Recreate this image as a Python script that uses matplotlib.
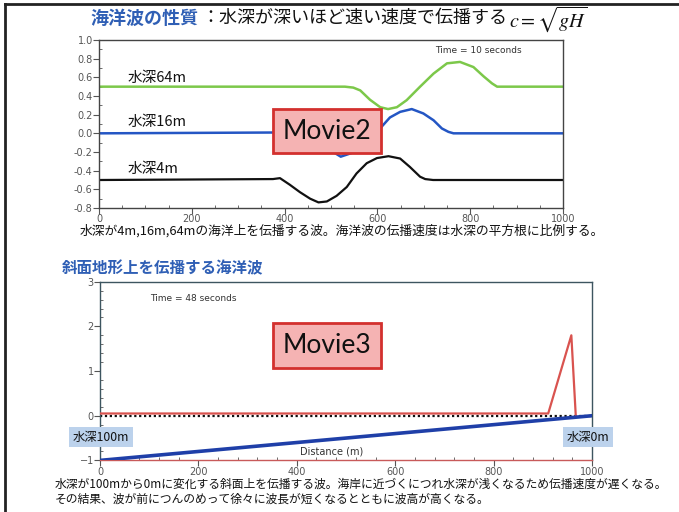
import matplotlib
matplotlib.use("Agg")
import matplotlib.pyplot as plt
from matplotlib.patches import FancyBboxPatch
from matplotlib.lines import Line2D
from matplotlib.ticker import MultipleLocator

plt.rcParams['font.family'] = ['Noto Sans CJK JP', 'DejaVu Sans']
plt.rcParams['mathtext.fontset'] = 'stix'

# ---- top panel: waves over three depths (t = 10 s) ----
x_64m = [0, 530, 548, 563, 584, 606, 623, 642, 663, 692, 721, 750, 778, 807, 829, 847, 858, 1000]
y_64m = [0.50, 0.50, 0.49, 0.46, 0.36, 0.28, 0.26, 0.28, 0.355, 0.50, 0.64, 0.75, 0.765, 0.71, 0.61, 0.535, 0.50, 0.50]

x_16m = [0, 430, 445, 470, 495, 521, 545, 570, 598, 609, 627, 649, 674, 699, 721, 739, 753, 764, 1000]
y_16m = [0.0, 0.01, 0.02, -0.05, -0.17, -0.25, -0.21, -0.09, 0.0, 0.07, 0.17, 0.23, 0.26, 0.213, 0.14, 0.052, 0.016, 0.0, 0.0]

x_4m = [0, 375, 390, 411, 433, 455, 473, 491, 512, 534, 555, 577, 599, 624, 649, 670, 692, 703, 720, 1000]
y_4m = [-0.50, -0.49, -0.48, -0.55, -0.63, -0.70, -0.74, -0.73, -0.67, -0.575, -0.43, -0.32, -0.265, -0.245, -0.27, -0.36, -0.465, -0.49, -0.50, -0.50]

depth_labels = ['水深64m', '水深16m', '水深4m']
top_xticks = [0, 200, 400, 600, 800, 1000]
top_yticks = [1.0, 0.8, 0.6, 0.4, 0.2, 0.0, -0.2, -0.4, -0.6, -0.8]

# ---- bottom panel: wave over a slope (t = 48 s) ----
x_wave = [0, 911, 958, 967]
y_wave = [0.05, 0.05, 1.80, 0.0]
x_bed = [0, 1000]
y_bed = [-1.0, 0.0]
x_still = [0, 1000]
y_still = [0.0, 0.0]
bot_xticks = [0, 200, 400, 600, 800, 1000]
bot_yticks = [-1, 0, 1, 2, 3]

TICK_GREY = '#555555'
TITLE_BLUE = '#2f5fb5'

fig = plt.figure(figsize=(6.79, 5.12), dpi=100)

# slide frame
fig.add_artist(Line2D([5/679, 5/679], [0, 1 - 4/512], transform=fig.transFigure, color='#222', lw=2))
fig.add_artist(Line2D([5/679, 1], [1 - 4/512, 1 - 4/512], transform=fig.transFigure, color='#222', lw=2))


def style_axes(ax, spine_color='#444'):
    for s in ax.spines.values():
        s.set_color(spine_color)
        s.set_linewidth(1.0)
    ax.tick_params(which='major', direction='out', length=4, width=0.8,
                   colors=TICK_GREY, labelsize=7, pad=0.5)
    ax.tick_params(which='minor', direction='in', length=2, width=0.6, colors=TICK_GREY)
    ax.tick_params(axis='x', which='both', top=False)
    ax.tick_params(axis='y', which='both', right=False)
    for lab in ax.get_xticklabels() + ax.get_yticklabels():
        lab.set_family('DejaVu Sans')


# ===== top =====
ax1 = fig.add_axes([99/679, 1 - 208/512, 464/679, 168/512])
ax1.plot(x_64m, y_64m, color='#7cc84a', lw=1.8, zorder=2)
ax1.plot(x_16m, y_16m, color='#2456c4', lw=1.8, zorder=2)
ax1.plot(x_4m, y_4m, color='#111111', lw=1.6, zorder=2)
ax1.set_xlim(0, 1000)
ax1.set_ylim(-0.8, 1.0)
ax1.set_xticks(top_xticks)
ax1.set_yticks(top_yticks)
ax1.set_yticklabels([f'{v:.1f}' for v in top_yticks])
ax1.xaxis.set_minor_locator(MultipleLocator(50))
ax1.yaxis.set_minor_locator(MultipleLocator(0.1))
style_axes(ax1)

for lab, yv in zip(depth_labels, [0.59, 0.12, -0.385]):
    ax1.text(62, yv, lab, fontsize=10.5, color='#111', va='center', ha='left', zorder=3)
ax1.text(724, 0.89, 'Time = 10 seconds', fontsize=6.5, color='#333', va='center',
         family='DejaVu Sans', zorder=3)

# title line
t1 = fig.text(90/679, 1 - 18/512, '海洋波の性質', fontsize=13, fontweight='bold',
              color=TITLE_BLUE, va='center', ha='left')
t2 = fig.text(0, 0, '：水深が深いほど速い速度で伝播する', fontsize=13, color='#111',
              va='center', ha='left')
fig.canvas.draw()
r = fig.canvas.get_renderer()
bb1 = t1.get_window_extent(r)
t2.set_position(((bb1.x1 + 3) / fig.bbox.width, 1 - 18/512))
fig.canvas.draw()
bb2 = t2.get_window_extent(r)
fig.text((bb2.x1 + 2) / fig.bbox.width, 1 - 19/512, r'$c=\sqrt{gH}$', fontsize=14.5,
         color='#111', va='center', ha='left')

fig.text(80/679, 1 - 231/512,
         '水深が4m,16m,64mの海洋上を伝播する波。海洋波の伝播速度は水深の平方根に比例する。',
         fontsize=9.2, color='#111', va='center', ha='left')

# ===== bottom =====
ax2 = fig.add_axes([100/679, 1 - 460.4/512, 492/679, 178.7/512])
ax2.plot(x_still, y_still, color='#111', lw=1.6, ls=(0, (1, 1.2)), zorder=2)
ax2.plot(x_wave, y_wave, color='#d9534f', lw=1.6, zorder=3)
ax2.plot(x_bed, y_bed, color='#1f3fa8', lw=2.6, zorder=3)
ax2.set_xlim(0, 1000)
ax2.set_ylim(-1, 3)
ax2.set_xticks(bot_xticks)
ax2.set_yticks(bot_yticks)
ax2.xaxis.set_minor_locator(MultipleLocator(40))
ax2.yaxis.set_minor_locator(MultipleLocator(0.2))
style_axes(ax2, spine_color='#3d5560')
ax2.spines['bottom'].set_color('#c85a5a')
ax2.text(102, 2.63, 'Time = 48 seconds', fontsize=6.5, color='#333', va='center',
         family='DejaVu Sans', zorder=3)
ax2.text(470, -0.81, 'Distance (m)', fontsize=7, color='#333', va='center', ha='center',
         family='DejaVu Sans', zorder=3)

fig.text(62/679, 1 - 268/512, '斜面地形上を伝播する海洋波', fontsize=11.2, fontweight='bold',
         color=TITLE_BLUE, va='center', ha='left')

box_style = dict(boxstyle='square,pad=0.3', facecolor='#bcd2ec', edgecolor='none')
fig.text(101/679, 1 - 437/512, '水深100m', fontsize=8.8, color='#111', ha='center',
         va='center', bbox=box_style, zorder=5)
fig.text(588/679, 1 - 437/512, '水深0m', fontsize=8.8, color='#111', ha='center',
         va='center', bbox=box_style, zorder=5)

fig.text(55/679, 1 - 484/512,
         '水深が100mから0mに変化する斜面上を伝播する波。海岸に近づくにつれ水深が浅くなるため伝播速度が遅くなる。',
         fontsize=8.5, color='#111', va='center', ha='left')
fig.text(55/679, 1 - 499/512,
         'その結果、波が前につんのめって徐々に波長が短くなるとともに波高が高くなる。',
         fontsize=8.5, color='#111', va='center', ha='left')

# movie buttons
for (x0, y0, x1, y1), label in [((272.7, 109.3, 380.7, 153.3), 'Movie2'),
                                ((272.7, 323.3, 380.7, 368.3), 'Movie3')]:
    rect = FancyBboxPatch((x0/679, 1 - y1/512), (x1 - x0)/679, (y1 - y0)/512,
                          boxstyle='square,pad=0', transform=fig.transFigure,
                          facecolor='#f5b3b3', edgecolor='#d3302e', lw=2, zorder=10)
    fig.add_artist(rect)
    fig.text((x0 + x1) / 2 / 679, 1 - (y0 + y1) / 2 / 512, label, fontsize=19,
             family=['Lato', 'DejaVu Sans'], color='#111', ha='center', va='center', zorder=11)

fig.savefig('out.png', dpi=100)
